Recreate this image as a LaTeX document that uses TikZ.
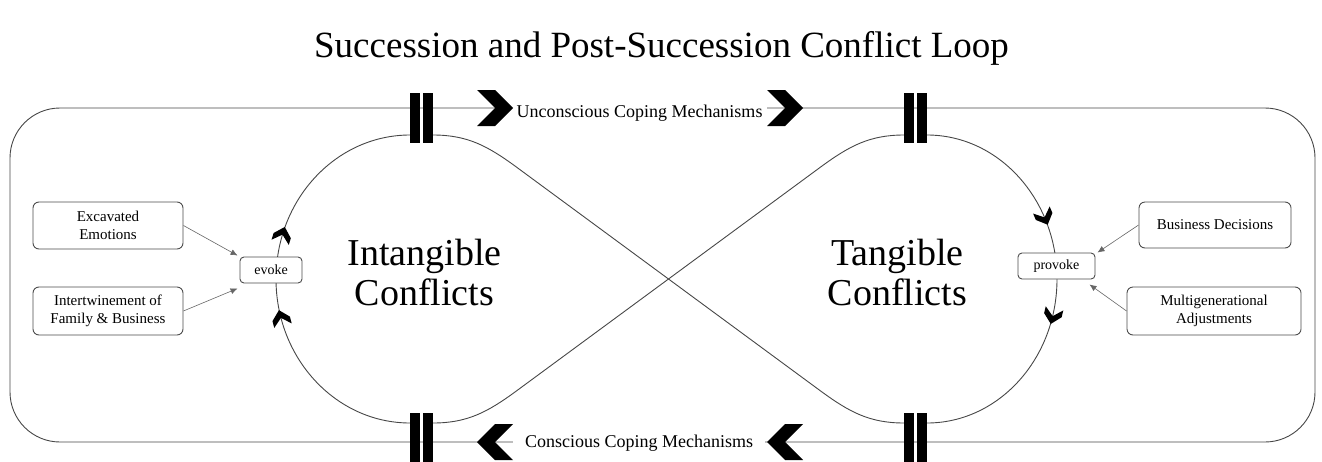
\documentclass[tikz,border=0pt]{standalone}
\usepackage{fontspec}
\setmainfont{Liberation Serif}
\usetikzlibrary{arrows.meta,decorations.markings}
\begin{document}
\begin{tikzpicture}[x=1pt,y=1pt,
  line/.style={draw=black!72, line width=0.9pt},
  lbox/.style={draw=black!70, line width=0.9pt, rounded corners=6pt, fill=white, align=center, inner sep=0pt, font=\fontsize{15}{18}\selectfont},
  vbox/.style={draw=black!70, line width=0.9pt, rounded corners=4pt, fill=white, inner sep=0pt, font=\fontsize{14}{16}\selectfont, minimum height=26pt},
  feed/.style={draw=black!60, line width=0.6pt, -{Latex[length=7pt,width=6pt]}},
  big/.style={font=\fontsize{38}{40}\selectfont, align=center},
  cover/.style={fill=white, inner sep=0pt, anchor=base, font=\fontsize{18}{20}\selectfont},
  bigchev/.pic={\fill (0,18) -- (18,18) -- (36,0) -- (18,-18) -- (0,-18) -- (18,0) -- cycle;},
  bars/.pic={\fill (-11.5,-25) rectangle (-1.5,25); \fill (1.5,-25) rectangle (11.5,25);}
]
\newcommand\smallchevron{\fill (-8,9) -- (-1,9) -- (8,0) -- (-1,-9) -- (-8,-9) -- (0,0) -- cycle;}
\useasboundingbox (0,0) rectangle (1322,-461);

% title
\node[font=\fontsize{37}{40}\selectfont, anchor=base] (title) at (661.5,-57) {Succession and Post-Succession Conflict Loop};

% outer frame
\draw[line, rounded corners=50pt] (10,-108) rectangle (1315,-442);

% left lobe (upward)
\draw[line, postaction={decorate}, decoration={markings,
    mark=at position 0.41 with {\smallchevron},
    mark=at position 0.603 with {\smallchevron}}]
  (410,-423) arc[start angle=270, end angle=90, x radius=134, y radius=144];
% right lobe (downward)
\draw[line, postaction={decorate}, decoration={markings,
    mark=at position 0.353 with {\smallchevron},
    mark=at position 0.587 with {\smallchevron}}]
  (927,-135) arc[start angle=90, end angle=-90, x radius=130, y radius=144];

% diagonals
\draw[line] (433,-135) to[out=0,in=144] (515,-166) -- (822,-392) to[out=-36,in=180] (904,-423);
\draw[line] (433,-423) to[out=0,in=-144] (515,-392) -- (822,-166) to[out=36,in=180] (904,-135);

% labels on the frame
\node[cover, minimum width=255pt] (ucm) at (639.5,-117) {Unconscious Coping Mechanisms};
\node[cover, minimum width=252pt] (ccm) at (639,-447) {Conscious Coping Mechanisms};

% chevrons on the frame
\pic at (477,-108) {bigchev};
\pic at (767,-108) {bigchev};
\pic[rotate=180] at (513,-442) {bigchev};
\pic[rotate=180] at (803,-442) {bigchev};

% bars
\pic at (421.5,-118) {bars};
\pic at (915.5,-118) {bars};
\pic at (421.5,-438) {bars};
\pic at (915.5,-438) {bars};

% big labels
\node[big] (intang) at (424.5,-272) {Intangible\\Conflicts};
\node[big] (tang) at (897.5,-272) {Tangible\\Conflicts};

% boxes
\node[lbox, minimum width=150pt, minimum height=47pt] (exc) at (108,-225.5) {Excavated\\Emotions};
\node[lbox, minimum width=150pt, minimum height=48pt] (inter) at (108,-311) {Intertwinement of\\Family \& Business};
\node[lbox, minimum width=152pt, minimum height=46pt] (bus) at (1215,-225) {Business Decisions};
\node[lbox, minimum width=174pt, minimum height=48pt] (multi) at (1214,-311) {Multigenerational\\Adjustments};
\node[vbox, minimum width=62pt] (evoke) at (271,-270) {evoke};
\node[vbox, minimum width=77pt] (provoke) at (1056.5,-266) {provoke};

% feed arrows
\draw[feed] (exc.east) -- ([xshift=-2pt,yshift=1pt]evoke.north west);
\draw[feed] (inter.east) -- ([xshift=-2pt,yshift=-5pt]evoke.south west);
\draw[feed] (bus.west) -- ([xshift=2pt]provoke.north east);
\draw[feed] (multi.west) -- ([xshift=-6pt,yshift=-5pt]provoke.south east);
\end{tikzpicture}
\end{document}
